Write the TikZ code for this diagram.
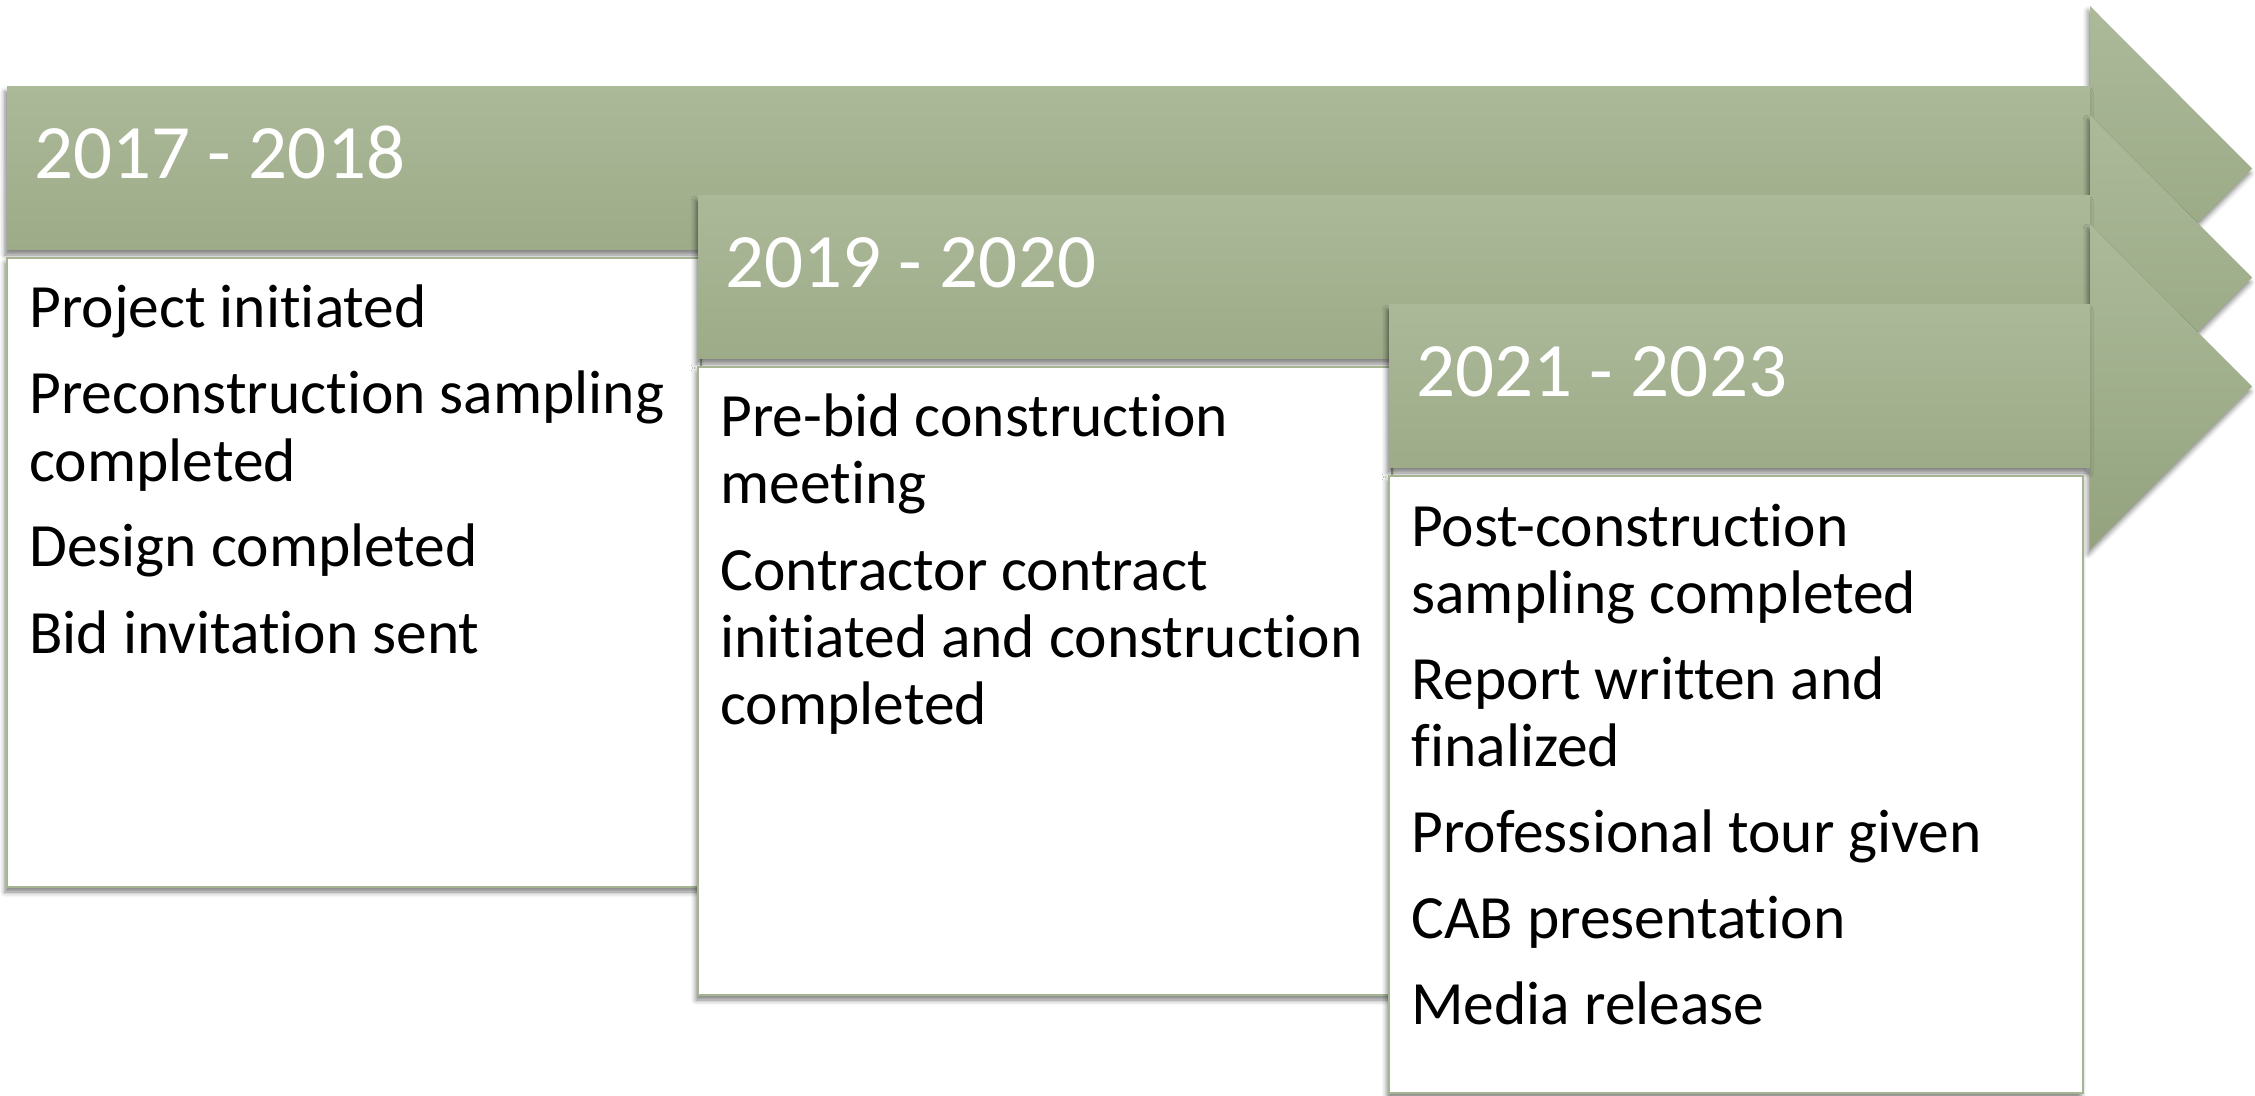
\documentclass[tikz,border=0pt]{standalone}
\usepackage{fontspec}
\setmainfont{Carlito}[Ligatures={NoCommon}]
\usetikzlibrary{shadows.blur}
\definecolor{gtop}{RGB}{171,185,153}
\definecolor{gbot}{RGB}{157,171,136}
\definecolor{htop}{RGB}{172,186,154}
\definecolor{hbot}{RGB}{148,163,126}
\definecolor{bord}{RGB}{165,181,146}
\tikzset{
  softshadow/.style={blur shadow={shadow xshift=-1pt, shadow yshift=-2.5pt, shadow blur radius=2.5pt, shadow opacity=50}},
  hdr/.style={top color=gtop, bottom color=gbot, draw=none, softshadow},
  headshape/.style={top color=htop, bottom color=hbot, draw=none, softshadow},
  bodybox/.style={fill=white, draw=bord, line width=1pt, softshadow},
  yeartxt/.style={anchor=base west, text=white, font=\fontsize{38.5}{40}\selectfont, inner sep=0pt},
  itemtxt/.style={anchor=base west, text=black, font=\fontsize{30.75}{33}\selectfont, inner sep=0pt},
}
\begin{document}
\begin{tikzpicture}[x=0.5pt, y=-0.5pt]
\useasboundingbox (0,0) rectangle (2255,1096);
% ---------- stage 1 ----------
\path[headshape] (2090,6) -- (2252,168.5) -- (2090,331) -- cycle;
\path[hdr] (7,87) rectangle (2090,250);
\path[bodybox] (7,258) rectangle (701,887);
\node[yeartxt] (y1) at (34,179) {2017 - 2018};
\node[itemtxt] (a1) at (29,328) {Project initiated};
\node[itemtxt] (a2) at (29,414) {Preconstruction sampling};
\node[itemtxt] (a3) at (29,481) {completed};
\node[itemtxt] (a4) at (29,567) {Design completed};
\node[itemtxt] (a5) at (29,653) {Bid invitation sent};
% ---------- stage 2 ----------
\path[headshape] (2090,115) -- (2252,277.5) -- (2090,440) -- cycle;
\path[hdr] (698,196) rectangle (2090,359);
\path[bodybox] (698,367) rectangle (1392,995);
\node[yeartxt] (y2) at (725,288) {2019 - 2020};
\node[itemtxt] (b1) at (720,437) {Pre-bid construction};
\node[itemtxt] (b2) at (720,504) {meeting};
\node[itemtxt] (b3) at (720,590) {Contractor contract};
\node[itemtxt] (b4) at (720,657) {initiated and construction};
\node[itemtxt] (b5) at (720,724) {completed};
% ---------- stage 3 ----------
\path[headshape] (2090,224) -- (2252,386.5) -- (2090,549) -- cycle;
\path[hdr] (1389,305) rectangle (2090,468);
\path[bodybox] (1389,476) rectangle (2083,1093);
\node[yeartxt] (y3) at (1416,397) {2021 - 2023};
\node[itemtxt] (c1) at (1411,546) {Post-construction};
\node[itemtxt] (c2) at (1411,613) {sampling completed};
\node[itemtxt] (c3) at (1411,699) {Report written and};
\node[itemtxt] (c4) at (1411,766) {finalized};
\node[itemtxt] (c5) at (1411,852) {Professional tour given};
\node[itemtxt] (c6) at (1411,938) {CAB presentation};
\node[itemtxt] (c7) at (1411,1024) {Media release};
\end{tikzpicture}
\end{document}
